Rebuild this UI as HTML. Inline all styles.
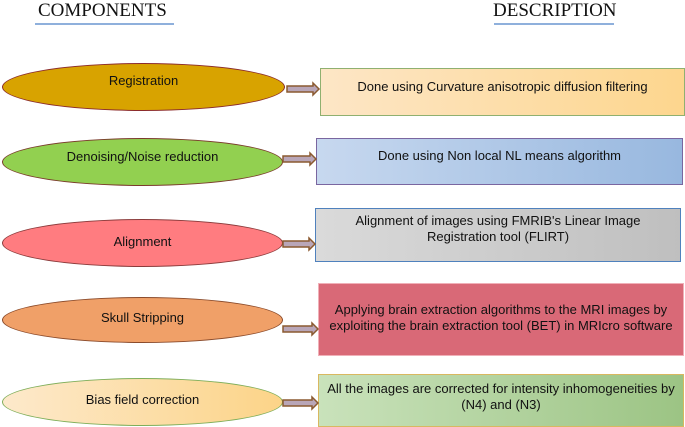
<!DOCTYPE html>
<html><head><style>
body{margin:0;width:685px;height:427px;background:#fff;position:relative;overflow:hidden;font-family:"Liberation Sans",sans-serif;}
.h{position:absolute;font-family:"Liberation Serif",serif;font-size:19px;color:#111;top:0px;}
.u{position:absolute;height:2px;background:#8fb0dc;top:23px;}
.e{position:absolute;border-radius:50%;box-sizing:border-box;display:flex;align-items:center;justify-content:center;font-size:13px;color:#111;}
.r{position:absolute;box-sizing:border-box;display:flex;align-items:center;justify-content:center;text-align:center;font-size:13px;line-height:16px;color:#111;}
svg{position:absolute;left:0;top:0}
</style></head><body>
<div class="h" style="left:38px">COMPONENTS</div><div class="u" style="left:35px;width:139px"></div>
<div class="h" style="left:493px">DESCRIPTION</div><div class="u" style="left:494px;width:120px"></div>

<div class="e" style="left:2px;top:63px;width:283px;height:48px;background:#d8a300;border:1px solid #8b2b2b;padding-bottom:14px">Registration</div>
<div class="r" style="left:320px;top:68px;width:365px;height:48px;background:linear-gradient(90deg,#fde6c6,#fdd68e);border:1px solid #8fb070;padding-bottom:10px">Done using Curvature anisotropic diffusion filtering</div>

<div class="e" style="left:2px;top:138px;width:281px;height:48px;background:#92d050;border:1px solid #7a3b2b;padding-bottom:12px">Denoising/Noise reduction</div>
<div class="r" style="left:316px;top:138px;width:367px;height:47px;background:linear-gradient(90deg,#c7d8ef,#98b8df);border:1px solid #7a66a0;padding-bottom:12px">Done using Non local NL means algorithm</div>

<div class="e" style="left:2px;top:219px;width:281px;height:48px;background:#ff7c80;border:1px solid #8b3b3b;padding-bottom:4px">Alignment</div>
<div class="r" style="left:315px;top:208px;width:366px;height:54px;background:linear-gradient(90deg,#dadada,#bfbfbf);border:1px solid #4f81bd;padding-bottom:12px">Alignment of images using FMRIB's Linear Image<br>Registration tool (FLIRT)</div>

<div class="e" style="left:2px;top:297px;width:281px;height:46px;background:#f0a068;border:1px solid #8b4b2b;padding-bottom:5px">Skull Stripping</div>
<div class="r" style="left:318px;top:283px;width:366px;height:73px;background:#d96977;border:1px solid #f0b0b8;padding-bottom:4px">Applying brain extraction algorithms to the MRI images by<br>exploiting the brain extraction tool (BET) in MRIcro software</div>

<div class="e" style="left:2px;top:378px;width:281px;height:48px;background:linear-gradient(90deg,#fde9cb,#fcd488);border:1px solid #7fae5a;padding-bottom:6px">Bias field correction</div>
<div class="r" style="left:318px;top:374px;width:366px;height:53px;background:linear-gradient(90deg,#c9e2bb,#9cc484);border:1px solid #d9b860;padding-bottom:8px">All the images are corrected for intensity inhomogeneities by<br>(N4) and (N3)</div>

<svg width="685" height="427">
<g fill="#b9a6b8" stroke="#8b5a30" stroke-width="1.5">
<path d="M287,86 h26 v-3 l6,6 l-6,6 v-3 h-26 z"/>
<path d="M283,156 h27 v-3 l6,6 l-6,6 v-3 h-27 z"/>
<path d="M283,241 h26 v-3 l6,6 l-6,6 v-3 h-26 z"/>
<path d="M283,326 h29 v-3 l6,6 l-6,6 v-3 h-29 z"/>
<path d="M283,400 h29 v-3 l6,6 l-6,6 v-3 h-29 z"/>
</g></svg>
</body></html>
